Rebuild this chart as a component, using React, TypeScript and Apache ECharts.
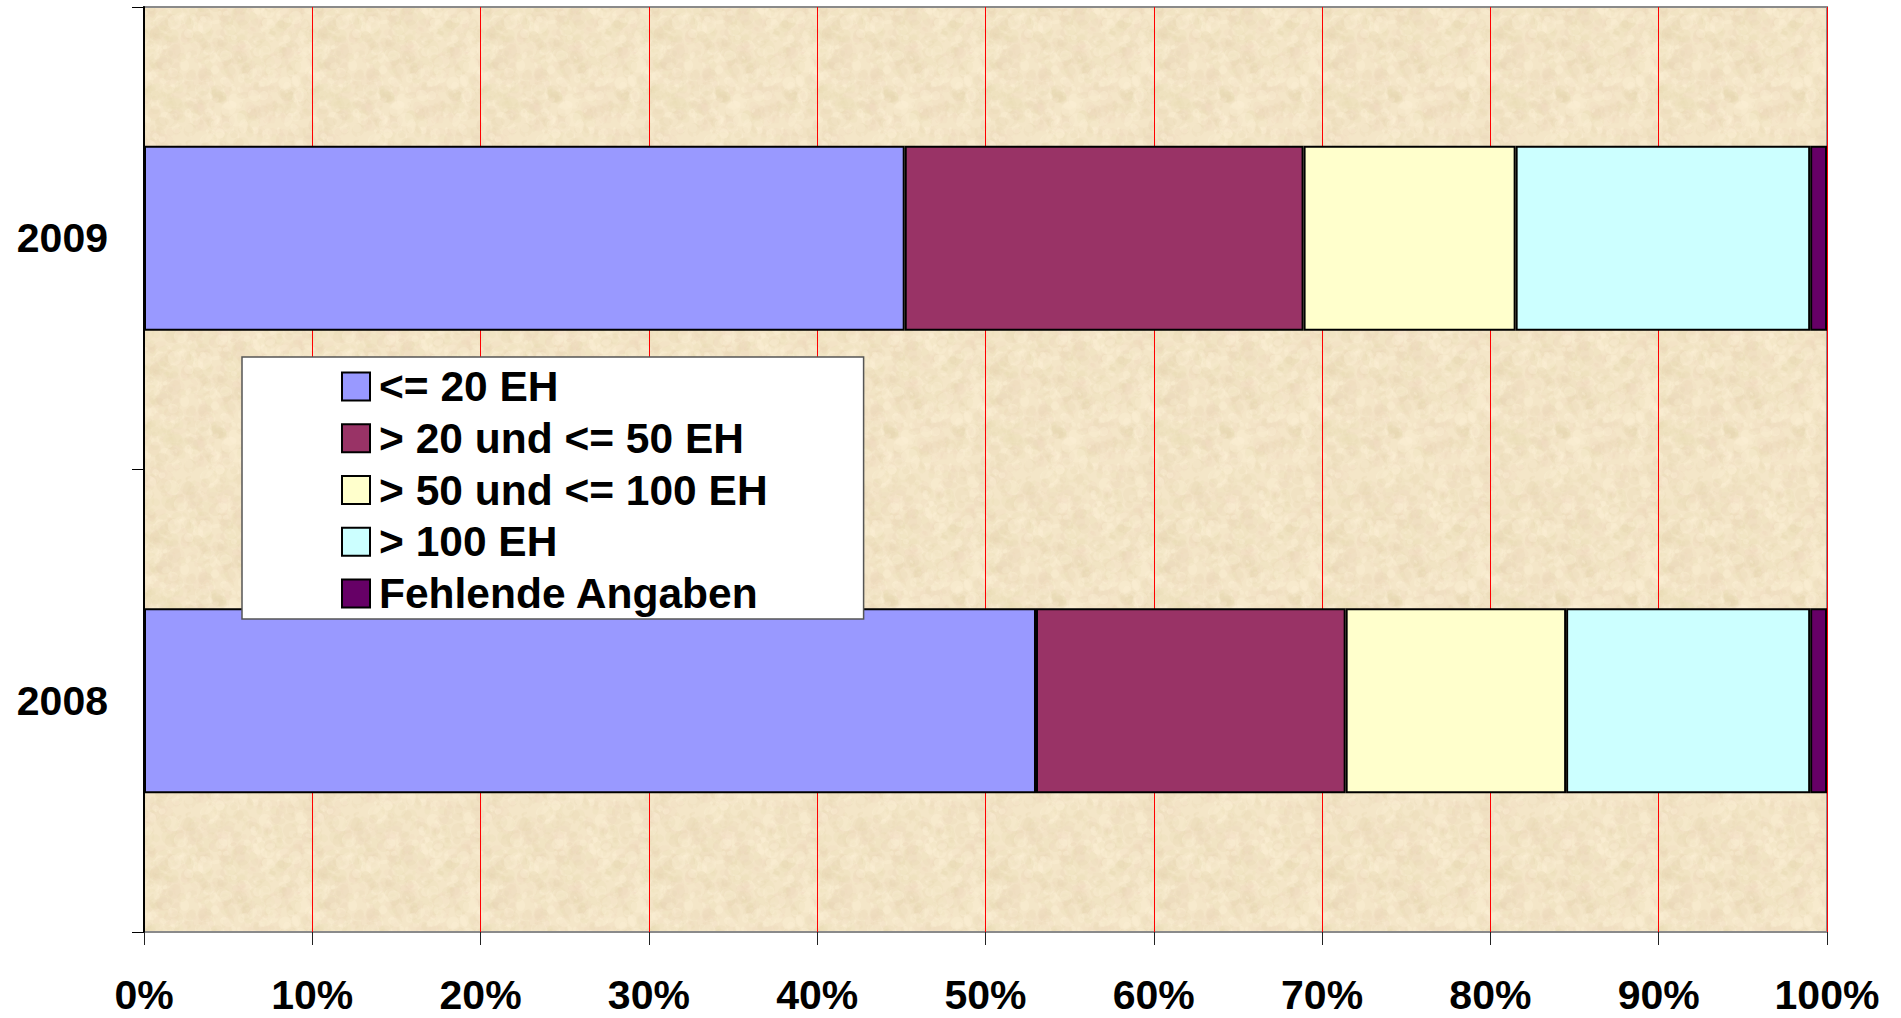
import React, { useEffect, useRef } from "react";
import * as echarts from "echarts";

const categories = ["2008", "2009"];
const seriesNames = ["<= 20 EH", "> 20 und <= 50 EH", "> 50 und <= 100 EH", "> 100 EH", "Fehlende Angaben"];
const upTo20 = [53.0, 45.2];
const from20to50 = [18.4, 23.7];
const from50to100 = [13.1, 12.6];
const over100 = [14.5, 17.5];
const missing = [1.0, 1.0];
const colors = ["#9999FF", "#993366", "#FFFFCC", "#CCFFFF", "#660066"];
const xTicks = [0, 10, 20, 30, 40, 50, 60, 70, 80, 90, 100];

const FONT = "'Liberation Sans', Arial, sans-serif";

function makeParchment(): HTMLCanvasElement | null {
  try {
    const size = 168;
    const c = document.createElement("canvas");
    c.width = size;
    c.height = size;
    const ctx = c.getContext("2d");
    if (!ctx) return null;
    ctx.fillStyle = "#F4E6C8";
    ctx.fillRect(0, 0, size, size);
    let s = 987654;
    const rnd = () => {
      s = (s * 1103515245 + 12345) & 0x7fffffff;
      return s / 0x7fffffff;
    };
    const tones = [
      "rgba(230,210,172,0.18)",
      "rgba(252,242,216,0.35)",
      "rgba(240,216,190,0.2)",
      "rgba(232,216,174,0.16)",
    ];
    for (let i = 0; i < 900; i++) {
      const x = rnd() * size;
      const y = rnd() * size;
      const r = 1.5 + rnd() * 6;
      const ry = r * (0.4 + rnd() * 0.9);
      const rot = rnd() * Math.PI;
      ctx.fillStyle = tones[Math.floor(rnd() * tones.length)];
      for (let dx = -size; dx <= size; dx += size) {
        for (let dy = -size; dy <= size; dy += size) {
          ctx.beginPath();
          ctx.ellipse(x + dx, y + dy, r, ry, rot, 0, Math.PI * 2);
          ctx.fill();
        }
      }
    }
    return c;
  } catch (e) {
    return null;
  }
}

export default function App() {
  const ref = useRef<HTMLDivElement>(null);
  useEffect(() => {
    if (!ref.current) return;
    const chart = echarts.init(ref.current, undefined, { renderer: "svg" });
    const values = [upTo20, from20to50, from50to100, over100, missing];
    const tex = makeParchment();
    const plotBg: any = tex ? { image: tex.toDataURL(), repeat: "repeat" } : "#F3E5C6";
    chart.setOption({
      animation: false,
      backgroundColor: "#ffffff",
      grid: {
        left: 144,
        right: 74,
        top: 7,
        bottom: 86,
        show: true,
        backgroundColor: plotBg,
        borderColor: "#8a8a8a",
        borderWidth: 2,
      },
      legend: {
        orient: "vertical",
        left: 242,
        top: 357,
        selectedMode: false,
        backgroundColor: "#ffffff",
        borderColor: "#555555",
        borderWidth: 1.5,
        padding: [8, 96, 4, 99],
        itemWidth: 28,
        itemHeight: 28,
        itemGap: 8.75,
        icon: "rect",
        data: seriesNames,
        textStyle: {
          fontFamily: FONT,
          fontWeight: "bold",
          fontSize: 42.5,
          lineHeight: 42,
          color: "#000000",
          padding: [0, 0, 0, 4],
        },
      },
      xAxis: {
        type: "value",
        min: 0,
        max: 100,
        interval: 10,
        axisLine: { show: true, lineStyle: { color: "#222222", width: 2, shadowColor: "rgba(0,0,0,0.35)", shadowOffsetY: 2, shadowBlur: 2 } },
        axisTick: { show: true, length: 13, lineStyle: { color: "#222222", width: 1 } },
        splitLine: { show: true, lineStyle: { color: "#FF0000", width: 1 } },
        axisLabel: {
          margin: 42,
          formatter: (v: number) => (xTicks.includes(v) ? v + "%" : ""),
          fontFamily: FONT,
          fontWeight: "bold",
          fontSize: 41,
          color: "#000000",
        },
      },
      yAxis: {
        type: "category",
        data: categories,
        axisLine: { show: true, lineStyle: { color: "#000000", width: 2 } },
        axisTick: { show: true, length: 12, lineStyle: { color: "#000000", width: 1 } },
        axisLabel: {
          margin: 36,
          fontFamily: FONT,
          fontWeight: "bold",
          fontSize: 41,
          color: "#000000",
        },
      },
      series: seriesNames.map((name, i) => ({
        name,
        type: "bar",
        stack: "total",
        barCategoryGap: "60%",
        data: values[i],
        itemStyle: { color: colors[i], borderColor: "#000000", borderWidth: 2 },
      })),
    });
    return () => chart.dispose();
  }, []);
  return (
    <div
      ref={ref}
      style={{ position: "absolute", left: 0, top: 0, width: 1901, height: 1018 }}
    />
  );
}
